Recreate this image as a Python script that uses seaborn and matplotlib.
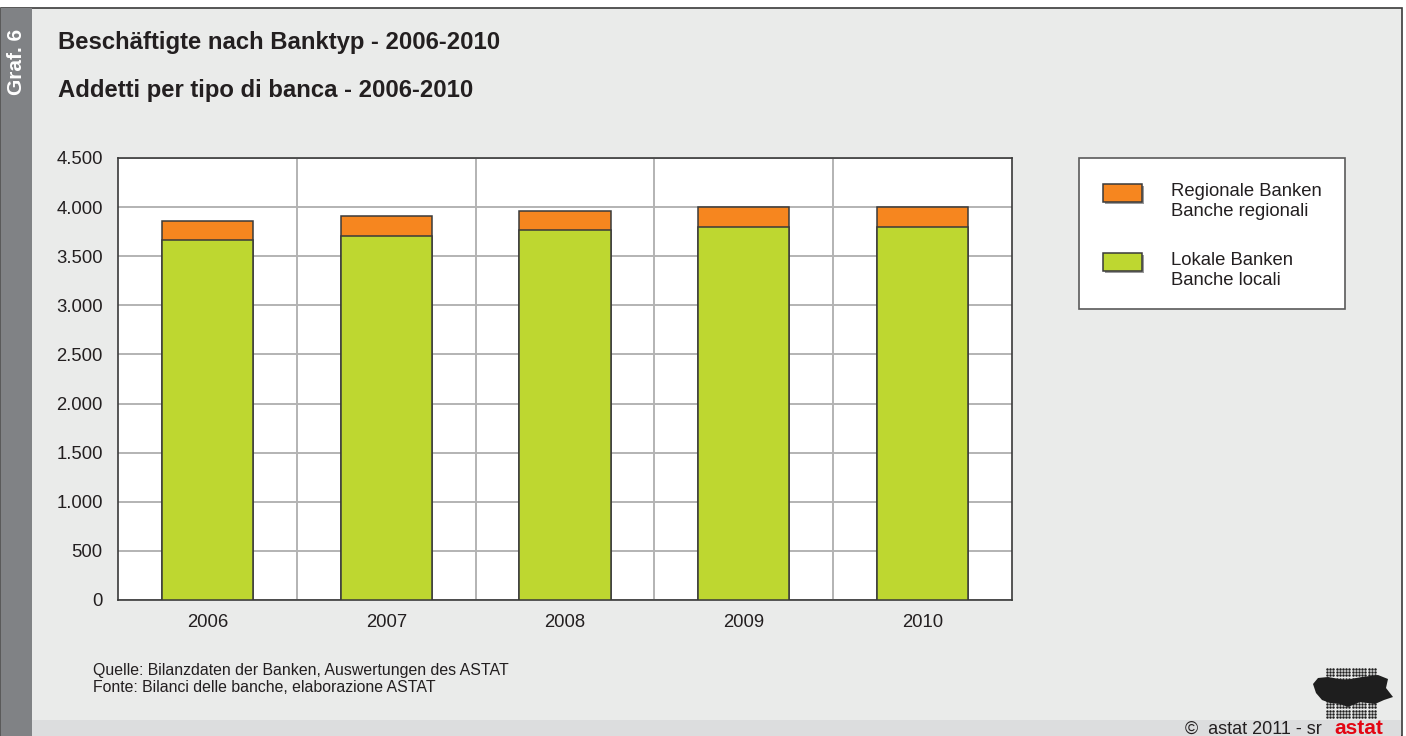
import numpy as np
import pandas as pd
import matplotlib
matplotlib.use("Agg")
import matplotlib.pyplot as plt
from matplotlib.patches import Rectangle, Patch, Polygon
from matplotlib.legend_handler import HandlerBase
from matplotlib.ticker import FuncFormatter, FixedLocator
import seaborn as sns

years = ["2006", "2007", "2008", "2009", "2010"]
lokale = [3666, 3707, 3765, 3795, 3795]
regionale = [196, 200, 196, 205, 207]
y_ticks = [0, 500, 1000, 1500, 2000, 2500, 3000, 3500, 4000, 4500]

title_de = "Beschäftigte nach Banktyp - 2006-2010"
title_it = "Addetti per tipo di banca - 2006-2010"
label_reg = "Regionale Banken\nBanche regionali"
label_lok = "Lokale Banken\nBanche locali"
source = "Quelle: Bilanzdaten der Banken, Auswertungen des ASTAT\nFonte: Bilanci delle banche, elaborazione ASTAT"

sns.set_theme(style="white")
plt.rcParams['font.family'] = ['Liberation Sans', 'DejaVu Sans']

W, H = 1406, 736
fig = plt.figure(figsize=(W / 100, H / 100), dpi=100)
fig.patch.set_facecolor("white")

def fx(px):
    return px / W

def fy(py):
    return 1 - py / H

# panel background
fig.patches.append(Rectangle((fx(1), 0), fx(1401), fy(8), transform=fig.transFigure,
                             facecolor="#EAEBEA", edgecolor="#3A3A3A", linewidth=1.2, zorder=0))
fig.patches.append(Rectangle((fx(1), 0), fx(31), fy(8), transform=fig.transFigure,
                             facecolor="#808285", edgecolor="none", zorder=0.5))
fig.patches.append(Rectangle((fx(32), 0), fx(1369), fy(720), transform=fig.transFigure,
                             facecolor="#DCDDDE", edgecolor="none", zorder=0.5))

fig.text(fx(17), fy(62), "Graf. 6", rotation=90, color="white", fontsize=15,
         fontweight="bold", ha="center", va="center")
fig.text(fx(58), fy(43), title_de, fontsize=17.2, fontweight="bold", color="#231F20",
         ha="left", va="center")
fig.text(fx(58), fy(90), title_it, fontsize=17.2, fontweight="bold", color="#231F20",
         ha="left", va="center")

# axes
ax = fig.add_axes([fx(118), fy(600), fx(1012 - 118), (600 - 158) / H])
ax.set_zorder(2)
ax.set_facecolor("white")

df = pd.DataFrame({"Jahr": years, "Lokale": lokale, "Regionale": regionale})
df["Gesamt"] = df["Lokale"] + df["Regionale"]

orange = "#F6861F"
green = "#BED730"
sns.barplot(data=df, x="Jahr", y="Gesamt", color=orange, saturation=1, width=0.51,
            edgecolor="#3A3A3A", linewidth=1.1, ax=ax, zorder=3)
sns.barplot(data=df, x="Jahr", y="Lokale", color=green, saturation=1, width=0.51,
            edgecolor="#3A3A3A", linewidth=1.1, ax=ax, zorder=3)

ax.set_xlim(-0.5, 4.5)
ax.set_ylim(0, 4500)
ax.set_yticks(y_ticks)
ax.yaxis.set_major_formatter(FuncFormatter(lambda v, p: f"{int(v):,}".replace(",", ".")))
ax.xaxis.set_minor_locator(FixedLocator([0.5, 1.5, 2.5, 3.5]))
ax.grid(axis="y", which="major", color="#B3B3B3", linewidth=1.4, zorder=1)
ax.grid(axis="x", which="minor", color="#B3B3B3", linewidth=1.4, zorder=1)
ax.set_axisbelow(True)
ax.set_xlabel("")
ax.set_ylabel("")
ax.tick_params(axis="both", which="both", length=0, labelsize=13.3, colors="#231F20")
ax.tick_params(axis="y", pad=11)
ax.tick_params(axis="x", pad=10)
for s in ax.spines.values():
    s.set_visible(True)
    s.set_color("#3A3A3A")
    s.set_linewidth(1.2)

# legend box
fig.patches.append(Rectangle((fx(1079), fy(309)), fx(1345 - 1079), (309 - 158) / H,
                             transform=fig.transFigure, facecolor="white",
                             edgecolor="#5A5A5A", linewidth=1.2, zorder=1))


class ShadowPatchHandler(HandlerBase):
    def create_artists(self, legend, orig_handle, xdescent, ydescent, width, height,
                       fontsize, trans):
        up = 6.5
        shadow = Rectangle((-xdescent + 1.5, -ydescent + up - 1.5), width, height,
                           facecolor="#9A9A9A", edgecolor="none", transform=trans)
        rect = Rectangle((-xdescent, -ydescent + up), width, height,
                         facecolor=orig_handle.get_facecolor(), edgecolor="#3A3A3A",
                         linewidth=1.1, transform=trans)
        return [shadow, rect]


handles = [Patch(facecolor=orange), Patch(facecolor=green)]
leg = fig.legend(handles, [label_reg, label_lok], loc="upper left",
                 bbox_to_anchor=(fx(1094), fy(174)), frameon=False, fontsize=13.3,
                 handlelength=2.1, handleheight=1.15, handletextpad=1.55,
                 labelspacing=1.75, borderpad=0,
                 handler_map={Patch: ShadowPatchHandler()})
leg.set_zorder(3)
for t in leg.get_texts():
    t.set_color("#231F20")
    t.set_linespacing(1.2)

fig.text(fx(93), fy(679), source, fontsize=11.4, color="#231F20", ha="left",
         va="center", linespacing=1.15)
fig.text(fx(1322), fy(729), "\u00a9  astat 2011 - sr", fontsize=13, color="#231F20",
         ha="right", va="center")
fig.text(fx(1383), fy(729), "astat", fontsize=15, fontweight="bold", color="#E30613",
         ha="right", va="center")

# logo (decorative dot matrix)
lax = fig.add_axes([fx(1308), fy(722), fx(88), (722 - 665) / H])
lax.set_zorder(3)
lax.set_xlim(1308, 1396)
lax.set_ylim(722, 665)
lax.axis("off")
blob = Polygon([(1313, 684), (1318, 678), (1328, 677), (1345, 680), (1362, 677),
                (1378, 675), (1388, 679), (1386, 688), (1393, 697), (1384, 700),
                (1375, 704), (1360, 702), (1348, 707), (1340, 704), (1330, 703),
                (1322, 700), (1316, 693)], closed=True, facecolor="#1E1E1E",
               edgecolor="none")
lax.add_patch(blob)
gx, gy = np.meshgrid(np.arange(1327, 1378, 3.2), np.arange(669, 720, 3.2))
gx, gy = gx.ravel(), gy.ravel()
lax.scatter(gx, gy, s=3.2, color="#1E1E1E", linewidths=0)

fig.savefig("out.png", dpi=100)
